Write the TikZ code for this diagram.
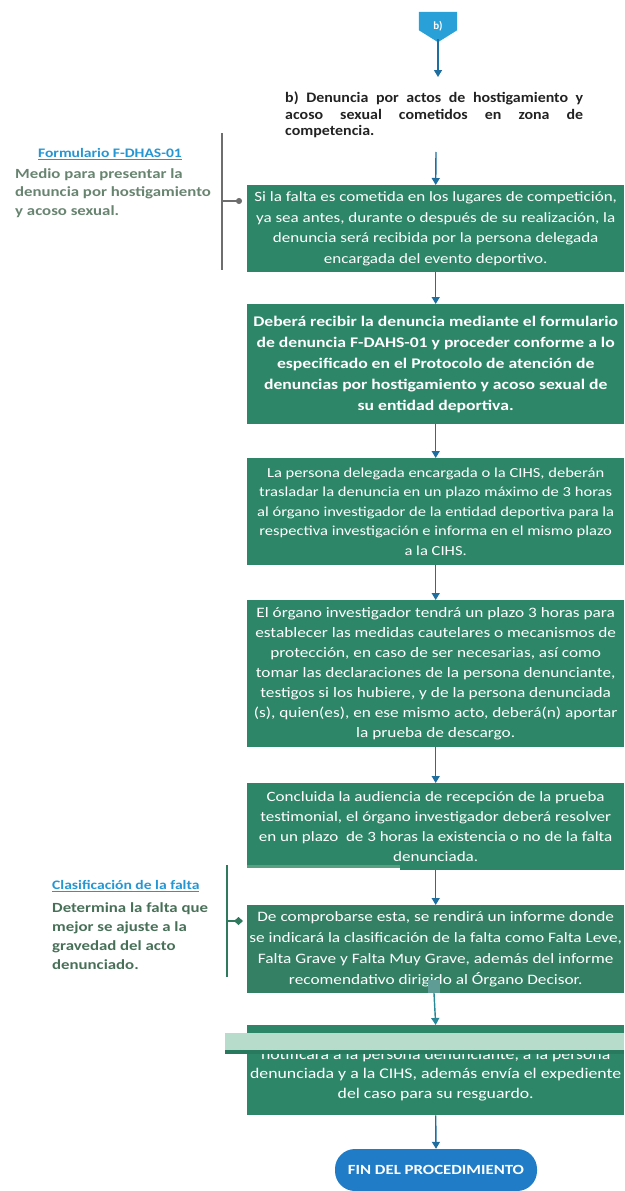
\documentclass[tikz,border=0pt]{standalone}
\usepackage{fontspec}
\setmainfont{Carlito}
\newfontfamily\wideA[FakeStretch=1.2]{Carlito}
\newfontfamily\wideB[FakeStretch=1.1]{Carlito}
\usetikzlibrary{arrows.meta,calc}
\definecolor{boxgreen}{RGB}{46,134,104}
\definecolor{boxgreenb}{RGB}{52,128,100}
\definecolor{boxlight}{RGB}{88,160,130}
\definecolor{arrowblue}{RGB}{31,110,160}
\definecolor{arrowteal}{RGB}{40,136,152}
\definecolor{startblue}{RGB}{42,160,216}
\definecolor{endblue}{RGB}{32,124,198}
\definecolor{linkblue}{RGB}{38,150,210}
\definecolor{notegray}{RGB}{104,132,112}
\definecolor{notegreen}{RGB}{72,112,88}
\definecolor{bargray}{RGB}{110,110,110}
\definecolor{bargreen}{RGB}{47,122,94}
\definecolor{striplight}{RGB}{184,220,204}
\definecolor{markteal}{RGB}{95,156,150}
\definecolor{darktext}{RGB}{34,34,34}
\begin{document}
\begin{tikzpicture}[x=1pt,y=-1pt,
  stepbox/.style={fill=boxgreen, text=white, align=center, minimum width=377pt,
    inner sep=0pt, anchor=north west},
  arr/.style={draw=arrowblue, line width=1.4pt, -{Triangle[length=7pt,width=8pt]}},
  arrt/.style={draw=arrowteal, line width=1.4pt, -{Triangle[length=7pt,width=8pt]}},
  notetitle/.style={text=linkblue, font=\wideA\bfseries\fontsize{13}{15}\selectfont, inner sep=0pt},
  notebody/.style={align=left, anchor=north west, inner sep=0pt},
]
\useasboundingbox (0,0) rectangle (624,1191);

% start connector b)
\node[minimum width=38pt, minimum height=18pt, inner sep=0pt] (start) at (438,21) {};
\fill[startblue] (start.north west) -- (start.north east) -- (start.south east)
  -- ($(start.south)+(0,12)$) -- (start.south west) -- cycle;
\node[text=white, font=\bfseries\fontsize{11}{12}\selectfont] (startlbl) at (438,26) {b)};
\coordinate (tip0) at (438,39);
\coordinate (a0) at (438,77);
\draw[arr] (tip0) -- (a0);

% heading text
\node[anchor=north west, inner sep=0pt, text=darktext, align=left,
  font=\wideB\bfseries\fontsize{14.5}{16.2}\selectfont] (btext) at (285,92)
  {\makebox[298pt][s]{b) Denuncia por actos de hostigamiento y}\\
   \makebox[298pt][s]{acoso sexual cometidos en zona de}\\
   competencia.};
\coordinate (a1) at (436,152);

% boxes
\node[stepbox, minimum height=87pt, font=\wideA\fontsize{14.2}{20.5}\selectfont] (box1) at (247,185)
 {Si la falta es cometida en los lugares de competición,\\
  ya sea antes, durante o después de su realización, la\\
  denuncia será recibida por la persona delegada\\
  encargada del evento deportivo.};
\node[stepbox, minimum height=120pt, font=\wideA\bfseries\fontsize{14.7}{21}\selectfont] (box2) at (247,304)
 {Deberá recibir la denuncia mediante el formulario\\
  de denuncia F-DAHS-01 y proceder conforme a lo\\
  especificado en el Protocolo de atención de\\
  denuncias por hostigamiento y acoso sexual de\\
  su entidad deportiva.};
\node[stepbox, minimum height=107pt, font=\wideA\fontsize{13.8}{19.5}\selectfont] (box3) at (247,458)
 {La persona delegada encargada o la CIHS, deberán\\
  trasladar la denuncia en un plazo máximo de 3 horas\\
  al órgano investigador de la entidad deportiva para la\\
  respectiva investigación e informa en el mismo plazo\\
  a la CIHS.};
\node[stepbox, minimum height=147pt, font=\wideA\fontsize{14.4}{20}\selectfont] (box4) at (247,600)
 {El órgano investigador tendrá un plazo 3 horas para\\
  establecer las medidas cautelares o mecanismos de\\
  protección, en caso de ser necesarias, así como\\
  tomar las declaraciones de la persona denunciante,\\
  testigos si los hubiere, y de la persona denunciada\\
  (s), quien(es), en ese mismo acto, deberá(n) aportar\\
  la prueba de descargo.};
\node[stepbox, minimum height=87pt, font=\wideA\fontsize{14.2}{20}\selectfont] (box5) at (247,783)
 {Concluida la audiencia de recepción de la prueba\\
  testimonial, el órgano investigador deberá resolver\\
  en un plazo\ \ de 3 horas la existencia o no de la falta\\
  denunciada.};
\fill[white] (247,867.5) rectangle (400,871);
\fill[boxlight] (247,864.5) rectangle (400,867.5);
\node[stepbox, fill=boxgreenb, minimum height=88pt, font=\wideA\fontsize{14.4}{21}\selectfont] (box6) at (247,905)
 {De comprobarse esta, se rendirá un informe donde\\
  se indicará la clasificación de la falta como Falta Leve,\\
  Falta Grave y Falta Muy Grave, además del informe\\
  recomendativo dirigido al Órgano Decisor.};
\node[stepbox, minimum height=90pt, font=\wideA\fontsize{14.8}{19.5}\selectfont] (box7) at (247,1025)
 {\mbox{}\\
  notificará a la persona denunciante, a la persona\\
  denunciada y a la CIHS, además envía el expediente\\
  del caso para su resguardo.};
\fill[striplight] (225,1033) rectangle (624,1050);
\fill[boxgreen!90!black] (225,1050) rectangle (624,1053.5);

\node[fill=endblue, rounded corners=20pt, minimum width=202pt, minimum height=42pt,
  text=white, font=\wideA\bfseries\fontsize{14}{15}\selectfont] (fin) at (436,1170)
  {FIN DEL PROCEDIMIENTO};

% marker under box 6
\node[fill=markteal, minimum width=12pt, minimum height=13pt, inner sep=0pt] (mk) at (434,986.5) {};

% arrows
\draw[arr] (a1) -- (box1.north);
\draw[arr] (box1.south) -- (box2.north);
\draw[arr] (box2.south) -- (box3.north);
\draw[arr] (box3.south) -- (box4.north);
\draw[arr] (box4.south) -- (box5.north);
\draw[arr] (box5.south) -- (box6.north);
\draw[arrt] (mk.south) -- (box7.north);
\draw[arr] (box7.south) -- (fin.north);

% side notes
\draw[bargray, line width=2.6pt] (222,133) -- (222,270);
\coordinate (n1) at (222,201);
\draw[bargray, line width=1.2pt, -{Circle[length=6pt]}, shorten >=5pt] (n1) -- (n1 -| box1.west);
\node[notetitle] (t1) at (110,154) {\underline{Formulario F-DHAS-01}};
\node[notebody, text=notegray, font=\wideA\bfseries\fontsize{14}{18.8}\selectfont] (b1) at (15,168)
 {Medio para presentar la\\denuncia por hostigamiento\\y acoso sexual.};

\draw[bargreen, line width=2.6pt] (227,865) -- (227,977);
\coordinate (n2) at (227,921);
\draw[bargreen, line width=1.2pt, -{Diamond[length=9pt,width=8pt]}, shorten >=4pt] (n2) -- (n2 -| box6.west);
\node[notetitle, anchor=west] (t2) at (52,886) {\underline{Clasificación de la falta}};
\node[notebody, text=notegreen, font=\wideA\bfseries\fontsize{14}{19.3}\selectfont] (b2) at (52,902)
 {Determina la falta que\\mejor se ajuste a la\\gravedad del acto\\denunciado.};
\end{tikzpicture}
\end{document}
